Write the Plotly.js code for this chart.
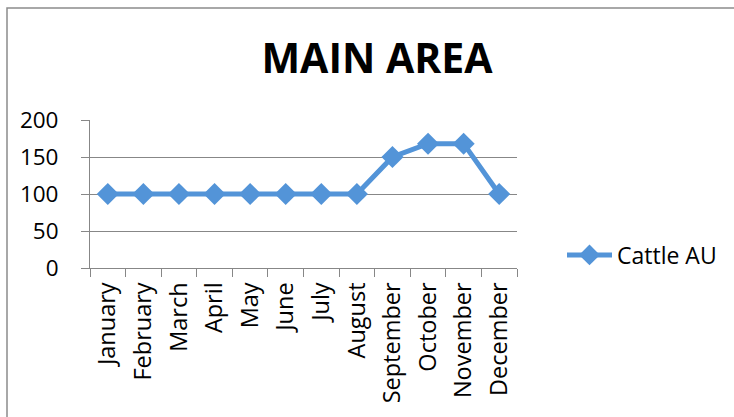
<!DOCTYPE html>
<html>
<head>
<meta charset="utf-8">
<script src="https://cdn.plot.ly/plotly-3.0.1.min.js"></script>
<style>
html,body{margin:0;padding:0;background:#fff;}
#chart{width:734px;height:417px;}
</style>
</head>
<body>
<div id="chart"></div>
<script>
var months = ["January","February","March","April","May","June","July","August","September","October","November","December"];
var cattleAU = [100,100,100,100,100,100,100,100,150,168,168,100];
var seriesName = "Cattle AU";
var chartTitle = "MAIN AREA";
var yTicks = [0,50,100,150,200];

var FONT = "Open Sans, sans-serif";
var BLUE = "#5394D8";
var GRID = "#878787";

var trace = {
  x: months,
  y: cattleAU,
  name: seriesName,
  type: "scatter",
  mode: "lines+markers",
  line: {color: BLUE, width: 5},
  marker: {symbol: "diamond", size: 17, color: BLUE}
};

var layout = {
  width: 734, height: 417,
  margin: {l: 90, r: 217, t: 120, b: 149},
  paper_bgcolor: "#fff", plot_bgcolor: "#fff",
  font: {family: FONT, color: "#000", size: 23},
  title: {text: "<b>" + chartTitle + "</b>", font: {family: FONT, size: 41, color: "#000"},
          x: 377/734, xanchor: "center", xref: "container", y: 1 - 73/417, yanchor: "bottom", yref: "container"},
  xaxis: {
    type: "category", range: [-0.5, 11.5], tickson: "boundaries",
    ticks: "outside", ticklen: 8, tickcolor: GRID, tickwidth: 1,
    showline: true, linecolor: GRID, linewidth: 1,
    showgrid: false, tickangle: -90, ticklabelstandoff: 4,
    tickfont: {family: FONT, size: 23.5, color: "#000"},
    fixedrange: true
  },
  yaxis: {
    range: [0, 200], tickvals: yTicks,
    ticks: "outside", ticklen: 8, tickcolor: GRID, tickwidth: 1,
    showline: true, linecolor: GRID, linewidth: 1,
    showgrid: true, gridcolor: GRID, gridwidth: 1, zeroline: false,
    ticklabelposition: "outside", ticklabelstandoff: 18,
    tickfont: {family: FONT, size: 22.5, color: "#000"},
    fixedrange: true
  },
  showlegend: true,
  legend: {x: (562-90)/427, xanchor: "left", y: (268-255)/148, yanchor: "middle", itemwidth: 45,
           font: {family: FONT, size: 23, color: "#000"}, bgcolor: "rgba(0,0,0,0)"},
  shapes: [{
    type: "rect", xref: "paper", yref: "paper",
    x0: (7-90)/427, x1: (760-90)/427, y0: (268-440)/148, y1: (268-8)/148,
    line: {color: "#8c8c8c", width: 1.5}, fillcolor: "rgba(0,0,0,0)", layer: "below"
  }]
};

Plotly.newPlot("chart", [trace], layout, {displayModeBar: false, staticPlot: true});
</script>
</body>
</html>
